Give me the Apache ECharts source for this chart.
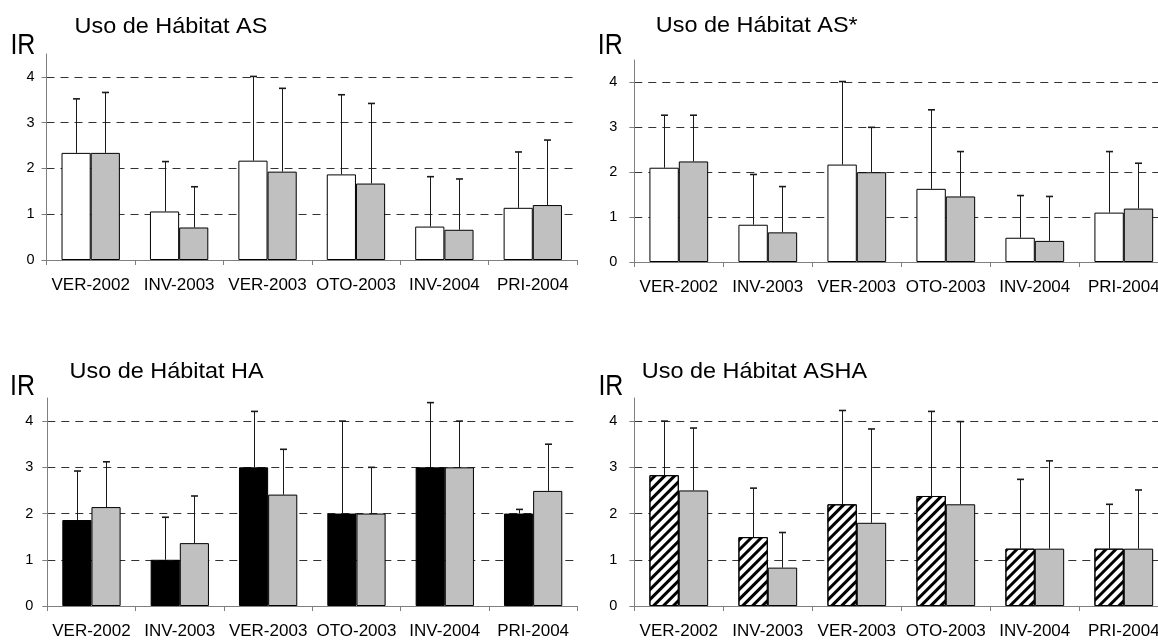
<!DOCTYPE html>
<html>
<head>
<meta charset="utf-8">
<script src="https://cdn.jsdelivr.net/npm/echarts@6/dist/echarts.min.js"></script>
<style>html,body{margin:0;padding:0;background:#fff;overflow:hidden;width:1158px;height:641px}#c{width:1176px;height:641px}</style>
</head>
<body>
<div id="c"></div>
<script>
// ---- data ----
const categories = ['VER-2002','INV-2003','VER-2003','OTO-2003','INV-2004','PRI-2004'];
const yTicks = [0, 1, 2, 3, 4];
const yMax = 4.5;

const titles = ['Uso de Hábitat AS', 'Uso de Hábitat AS*', 'Uso de Hábitat HA', 'Uso de Hábitat ASHA'];
const yName = 'IR';

// Uso de Hábitat AS
const asFirst      = [2.34, 1.06, 2.17, 1.87, 0.73, 1.14];
const asFirstUp    = [3.52, 2.15, 4.01, 3.61, 1.82, 2.36];
const asSecond     = [2.34, 0.71, 1.93, 1.67, 0.66, 1.20];
const asSecondUp   = [3.66, 1.60, 3.75, 3.42, 1.77, 2.62];
// Uso de Hábitat AS*
const as2First     = [2.10, 0.83, 2.17, 1.63, 0.54, 1.10];
const as2FirstUp   = [3.27, 1.95, 4.02, 3.39, 1.48, 2.46];
const as2Second    = [2.24, 0.66, 2.00, 1.46, 0.47, 1.19];
const as2SecondUp  = [3.27, 1.68, 3.00, 2.46, 1.46, 2.20];
// Uso de Hábitat HA
const haFirst      = [1.86, 1.00, 3.00, 2.00, 3.00, 2.00];
const haFirstUp    = [2.92, 1.92, 4.21, 4.00, 4.40, 2.09];
const haSecond     = [2.14, 1.36, 2.41, 2.00, 3.00, 2.49];
const haSecondUp   = [3.12, 2.38, 3.39, 3.00, 4.00, 3.50];
// Uso de Hábitat ASHA
const ashaFirst    = [2.83, 1.49, 2.20, 2.38, 1.24, 1.24];
const ashaFirstUp  = [4.00, 2.55, 4.23, 4.21, 2.74, 2.20];
const ashaSecond   = [2.50, 0.83, 1.80, 2.20, 1.24, 1.24];
const ashaSecondUp = [3.85, 1.59, 3.83, 3.99, 3.14, 2.51];

// ---- layout / style ----
const FONT = 'Liberation Sans, Arial, sans-serif';
const GAP = 0.34;
const grids = [
  {left: 46.5, top: 54, width: 530.5, height: 206},
  {left: 634.3, top: 60, width: 534, height: 202},
  {left: 47.3, top: 398, width: 530, height: 208},
  {left: 634.3, top: 398, width: 534, height: 208}
];
const labelMargins = [12, 17, 14, 17];
const titlePos = [[74.5, 26.8], [655.8, 25.8], [69.5, 372.2], [641.8, 372]];
const irPos = [[10.4, 45.5], [597.7, 45.5], [10, 387], [598.4, 387]];

const panels = [
  {a: asFirst, au: asFirstUp, b: asSecond, bu: asSecondUp, style: 'white'},
  {a: as2First, au: as2FirstUp, b: as2Second, bu: as2SecondUp, style: 'white'},
  {a: haFirst, au: haFirstUp, b: haSecond, bu: haSecondUp, style: 'black'},
  {a: ashaFirst, au: ashaFirstUp, b: ashaSecond, bu: ashaSecondUp, style: 'hatch'}
];

function firstItemStyle(kind) {
  const base = {borderColor: '#000', borderWidth: 1};
  if (kind === 'white') return Object.assign(base, {color: '#ffffff'});
  if (kind === 'black') return Object.assign(base, {color: '#000000'});
  return Object.assign(base, {
    color: '#ffffff',
    decal: {symbol: 'rect', symbolSize: 1, color: '#000000', dashArrayX: [1, 0], dashArrayY: [3, 4], rotation: -Math.PI / 4}
  });
}

function errRender(side) {
  return function (params, api) {
    const idx = api.value(0);
    const top = api.coord([idx, api.value(2)]);
    const base = api.coord([idx, api.value(1)]);
    const band = api.size([1, 0])[0];
    const barW = band * (1 - GAP) / 2;
    const x = Math.round(top[0] + side * barW / 2) + 0.5;
    return {
      type: 'group',
      children: [
        {type: 'line', shape: {x1: x, y1: base[1], x2: x, y2: top[1]}, style: {stroke: '#1a1a1a', lineWidth: 1}},
        {type: 'line', shape: {x1: x - 3.5, y1: top[1], x2: x + 3.5, y2: top[1]}, style: {stroke: '#1a1a1a', lineWidth: 1.6}}
      ]
    };
  };
}

const option = {
  animation: false,
  backgroundColor: '#ffffff',
  textStyle: {fontFamily: FONT},
  graphic: [],
  grid: [],
  xAxis: [],
  yAxis: [],
  series: []
};

panels.forEach((p, i) => {
  option.graphic.push({
    type: 'text', x: titlePos[i][0], y: titlePos[i][1], scaleX: 1.09, silent: true,
    style: {text: titles[i], font: 'normal 21.5px ' + FONT, fill: '#000',
            align: 'left', verticalAlign: 'middle', textAlign: 'left', textVerticalAlign: 'middle'}
  });
  option.graphic.push({
    type: 'text', x: irPos[i][0], y: irPos[i][1], scaleX: 0.86, silent: true,
    style: {text: yName, font: 'normal 29px ' + FONT, fill: '#000',
            align: 'left', verticalAlign: 'middle', textAlign: 'left', textVerticalAlign: 'middle'}
  });
  option.grid.push(Object.assign({containLabel: false}, grids[i]));
  option.xAxis.push({
    type: 'category', gridIndex: i, data: categories, boundaryGap: true,
    axisLine: {show: true, lineStyle: {color: '#7f7f7f', width: 1}},
    axisTick: {show: true, length: 5, interval: 0, lineStyle: {color: '#7f7f7f'}},
    axisLabel: {interval: 0, margin: 17, fontSize: 17, color: '#000', fontFamily: FONT},
    splitLine: {show: false}
  });
  option.yAxis.push({
    type: 'value', gridIndex: i, min: 0, max: yMax, interval: 1,
    axisLine: {show: true, lineStyle: {color: '#7f7f7f', width: 1}},
    axisTick: {show: true, length: 5, inside: false, customValues: yTicks, lineStyle: {color: '#7f7f7f'}},
    axisLabel: {margin: labelMargins[i], fontSize: 14.5, color: '#000', fontFamily: FONT, customValues: yTicks},
    splitLine: {show: true, lineStyle: {color: ['rgba(0,0,0,0)', '#333', '#333', '#333', '#333', 'rgba(0,0,0,0)'], type: [8, 6], width: 1}}
  });
  option.series.push({
    type: 'bar', xAxisIndex: i, yAxisIndex: i, data: p.a, barGap: '0%', barCategoryGap: (GAP * 100) + '%',
    itemStyle: firstItemStyle(p.style), z: 2
  });
  option.series.push({
    type: 'bar', xAxisIndex: i, yAxisIndex: i, data: p.b, barGap: '0%', barCategoryGap: (GAP * 100) + '%',
    itemStyle: {color: '#c0c0c0', borderColor: '#000', borderWidth: 1}, z: 2
  });
  option.series.push({
    type: 'custom', xAxisIndex: i, yAxisIndex: i, renderItem: errRender(-1), z: 3,
    encode: {x: 0, y: 2},
    data: p.a.map((v, k) => [k, v, p.au[k]])
  });
  option.series.push({
    type: 'custom', xAxisIndex: i, yAxisIndex: i, renderItem: errRender(1), z: 3,
    encode: {x: 0, y: 2},
    data: p.b.map((v, k) => [k, v, p.bu[k]])
  });
});

const chart = echarts.init(document.getElementById('c'), null, {renderer: 'canvas'});
chart.setOption(option);
</script>
</body>
</html>
